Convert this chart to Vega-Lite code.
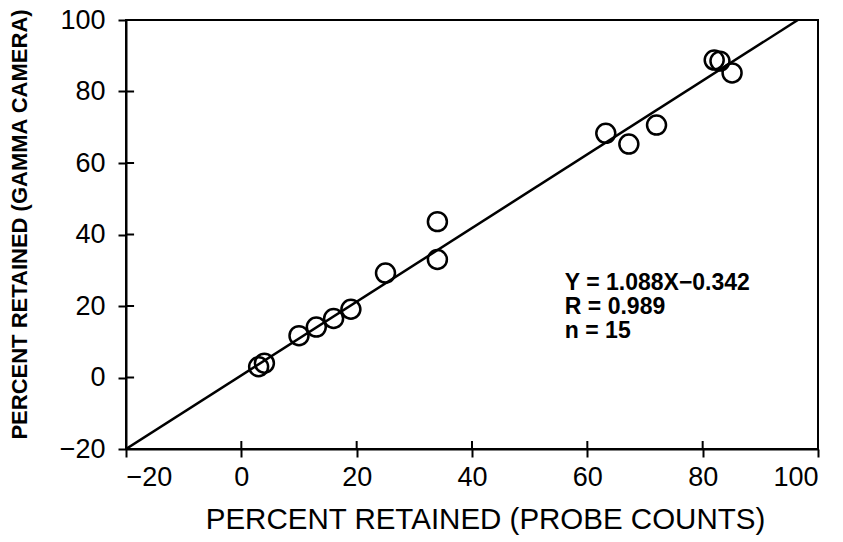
{
  "$schema": "https://vega.github.io/schema/vega-lite/v6.json",
  "width": 692,
  "height": 429,
  "autosize": "none",
  "padding": {"left": 126, "top": 20, "right": 25, "bottom": 93},
  "background": "white",
  "config": {
    "view": {"stroke": "black", "strokeWidth": 2},
    "axis": {
      "domainColor": "black", "domainWidth": 2,
      "tickColor": "black", "tickWidth": 2, "tickSize": 8,
      "labelFont": "Liberation Sans", "labelFontSize": 27, "labelColor": "black",
      "titleFont": "Liberation Sans", "titleColor": "black",
      "grid": false
    }
  },
  "datasets": {
    "points": [
      {"probe": 3, "gamma": 3},
      {"probe": 4, "gamma": 4},
      {"probe": 10, "gamma": 11.7},
      {"probe": 13, "gamma": 14.1},
      {"probe": 16, "gamma": 16.5},
      {"probe": 19, "gamma": 19.1},
      {"probe": 25, "gamma": 29.2},
      {"probe": 34, "gamma": 33},
      {"probe": 34, "gamma": 43.6},
      {"probe": 63.2, "gamma": 68.3},
      {"probe": 67.2, "gamma": 65.3},
      {"probe": 72, "gamma": 70.6},
      {"probe": 82, "gamma": 88.8},
      {"probe": 83, "gamma": 88.5},
      {"probe": 85.1, "gamma": 85.2}
    ],
    "fit": [
      {"probe": -20, "gamma": -20},
      {"probe": 96.5, "gamma": 100}
    ],
    "ticks": [
      {"v": -20}, {"v": 0}, {"v": 20}, {"v": 40}, {"v": 60}, {"v": 80}, {"v": 100}
    ]
  },
  "layer": [
    {
      "data": {"name": "fit"},
      "mark": {"type": "line", "color": "black", "strokeWidth": 2.5, "clip": true},
      "encoding": {
        "x": {
          "field": "probe", "type": "quantitative",
          "scale": {"domain": [-20, 100], "nice": false, "zero": false},
          "axis": {
            "values": [-20, 0, 20, 40, 60, 80, 100],
            "labelPadding": 7,
            "title": "PERCENT RETAINED (PROBE COUNTS)",
            "titleFontSize": 29.5, "titleFontWeight": "normal",
            "titlePadding": 15, "titleX": 359
          }
        },
        "y": {
          "field": "gamma", "type": "quantitative",
          "scale": {"domain": [-20, 100], "nice": false, "zero": false},
          "axis": {
            "values": [-20, 0, 20, 40, 60, 80, 100],
            "labelPadding": 13,
            "title": "PERCENT RETAINED (GAMMA CAMERA)",
            "titleFontSize": 22, "titleFontWeight": "bold",
            "titlePadding": 28, "titleY": 204
          }
        }
      }
    },
    {
      "data": {"name": "points"},
      "mark": {"type": "point", "shape": "circle", "filled": false, "color": "black", "strokeWidth": 2.5, "size": 360, "opacity": 1},
      "encoding": {
        "x": {"field": "probe", "type": "quantitative"},
        "y": {"field": "gamma", "type": "quantitative"}
      }
    },
    {
      "data": {"name": "ticks"},
      "mark": {"type": "rule", "color": "black", "strokeWidth": 2},
      "encoding": {
        "x": {"field": "v", "type": "quantitative"},
        "y": {"datum": -20},
        "y2": {"datum": -17.76}
      }
    },
    {
      "data": {"name": "ticks"},
      "mark": {"type": "rule", "color": "black", "strokeWidth": 2},
      "encoding": {
        "y": {"field": "v", "type": "quantitative"},
        "x": {"datum": -20},
        "x2": {"datum": -18.6}
      }
    },
    {
      "data": {"values": [{"probe": 56.1, "gamma": 24.5}]},
      "mark": {
        "type": "text", "align": "left", "baseline": "alphabetic",
        "font": "Liberation Sans", "fontWeight": "bold", "fontSize": 23, "lineHeight": 24,
        "color": "black",
        "text": ["Y = 1.088X\u22120.342", "R = 0.989", "n = 15"]
      },
      "encoding": {
        "x": {"field": "probe", "type": "quantitative"},
        "y": {"field": "gamma", "type": "quantitative"}
      }
    }
  ]
}
